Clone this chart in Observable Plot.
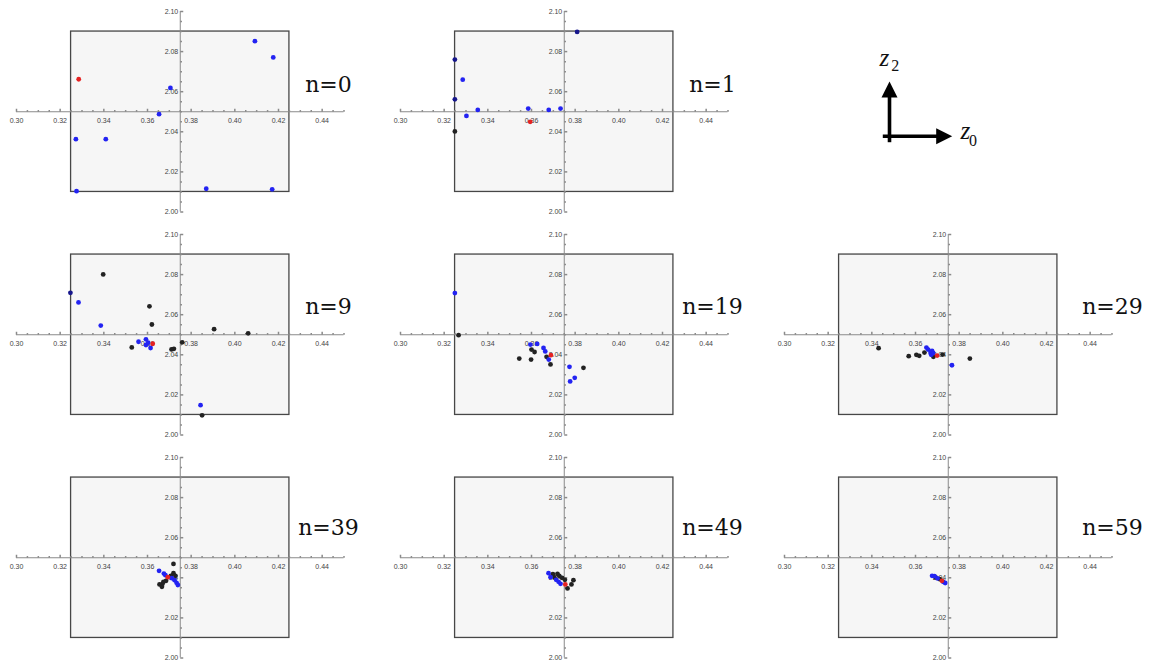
<!DOCTYPE html>
<html><head><meta charset="utf-8">
<script src="https://cdn.jsdelivr.net/npm/d3@7"></script>
<script src="https://cdn.jsdelivr.net/npm/@observablehq/plot@0.6"></script>
<style>
html,body{margin:0;padding:0;background:#fff;}
#root{position:relative;width:1153px;height:666px;overflow:hidden;background:#fff;}
#root svg{position:absolute;overflow:visible;}
</style></head><body><div id="root"></div>
<script>
// ---------- data ----------
const labels = ["n=0", "n=1", "n=9", "n=19", "n=29", "n=39", "n=49", "n=59"];
const xRange = [0.30, 0.45];
const yRange = [2.00, 2.10];
const origin = [0.375, 2.05];
const boxX = [0.325, 0.425];
const boxY = [2.01, 2.09];
const xTicks = [0.30, 0.32, 0.34, 0.36, 0.38, 0.40, 0.42, 0.44];
const yTicks = [2.00, 2.02, 2.04, 2.06, 2.08, 2.10];

// [z0, z2, colour]  b = blue, k = black, r = red, d = dark blue (overlap)
const pts0 = [[0.4092,2.0852,"b"],[0.4176,2.0771,"b"],[0.3285,2.0662,"r"],[0.3705,2.0619,"b"],[0.3653,2.0488,"b"],[0.3272,2.0363,"b"],[0.3409,2.0363,"b"],[0.3275,2.0104,"b"],[0.3869,2.0116,"b"],[0.4171,2.0113,"b"]];
const pts1 = [[0.3809,2.0898,"d"],[0.3249,2.0760,"d"],[0.3285,2.0660,"b"],[0.3249,2.0562,"d"],[0.3354,2.0509,"b"],[0.3302,2.0479,"b"],[0.3585,2.0516,"b"],[0.3594,2.0450,"r"],[0.3679,2.0509,"b"],[0.3733,2.0516,"b"],[0.3249,2.0402,"k"]];
const pts9 = [[0.3247,2.0709,"d"],[0.3284,2.0661,"b"],[0.3397,2.0801,"k"],[0.3386,2.0546,"b"],[0.3609,2.0642,"k"],[0.3620,2.0551,"k"],[0.3905,2.0528,"k"],[0.4061,2.0507,"k"],[0.3559,2.0465,"b"],[0.3593,2.0477,"b"],[0.3593,2.0449,"b"],[0.3603,2.0460,"b"],[0.3614,2.0434,"b"],[0.3624,2.0455,"r"],[0.3528,2.0437,"k"],[0.3710,2.0427,"k"],[0.3721,2.0430,"k"],[0.3759,2.0462,"k"],[0.3843,2.0149,"b"],[0.3850,2.0098,"k"]];
const pts19 = [[0.3249,2.0708,"b"],[0.3266,2.0498,"k"],[0.3595,2.0451,"b"],[0.3626,2.0454,"b"],[0.3600,2.0426,"k"],[0.3614,2.0414,"k"],[0.3655,2.0434,"b"],[0.3663,2.0417,"b"],[0.3669,2.0390,"k"],[0.3679,2.0376,"b"],[0.3689,2.0398,"r"],[0.3687,2.0352,"k"],[0.3544,2.0381,"k"],[0.3598,2.0376,"k"],[0.3774,2.0340,"b"],[0.3777,2.0267,"b"],[0.3798,2.0285,"b"],[0.3838,2.0335,"k"]];
const pts29 = [[0.3431,2.0433,"k"],[0.3569,2.0393,"k"],[0.3604,2.0400,"k"],[0.3617,2.0395,"k"],[0.3641,2.0411,"k"],[0.3650,2.0436,"b"],[0.3658,2.0426,"b"],[0.3669,2.0409,"b"],[0.3676,2.0419,"b"],[0.3672,2.0400,"b"],[0.3681,2.0409,"b"],[0.3682,2.0390,"k"],[0.3699,2.0396,"r"],[0.3724,2.0401,"k"],[0.3767,2.0348,"b"],[0.3849,2.0381,"k"]];
const pts39 = [[0.3719,2.0469,"k"],[0.3719,2.0423,"k"],[0.3653,2.0435,"b"],[0.3675,2.0421,"b"],[0.3682,2.0413,"b"],[0.3707,2.0410,"k"],[0.3693,2.0403,"r"],[0.3685,2.0385,"k"],[0.3711,2.0398,"b"],[0.3724,2.0388,"b"],[0.3733,2.0375,"b"],[0.3739,2.0364,"b"],[0.3669,2.0370,"k"],[0.3655,2.0367,"k"],[0.3666,2.0355,"k"],[0.3673,2.0380,"k"],[0.3728,2.0410,"k"]];
const pts49 = [[0.3678,2.0423,"b"],[0.3687,2.0403,"b"],[0.3698,2.0418,"k"],[0.3719,2.0420,"k"],[0.3727,2.0410,"k"],[0.3740,2.0400,"k"],[0.3705,2.0402,"k"],[0.3713,2.0390,"b"],[0.3724,2.0380,"b"],[0.3733,2.0370,"b"],[0.3753,2.0390,"k"],[0.3755,2.0367,"r"],[0.3765,2.0347,"k"],[0.3783,2.0367,"k"],[0.3792,2.0388,"k"]];
const pts59 = [[0.3676,2.0410,"b"],[0.3687,2.0408,"b"],[0.3692,2.0402,"k"],[0.3701,2.0397,"b"],[0.3711,2.0393,"k"],[0.3721,2.0385,"r"],[0.3727,2.0380,"b"],[0.3736,2.0374,"b"]];

const arrowVecs = [{sub: "0", x: 1, y: 0}, {sub: "2", x: 0, y: 1}];

// ---------- layout / style ----------
const panelData = [pts0, pts1, null, pts9, pts19, pts29, pts39, pts49, pts59];
const panelLabels = [labels[0], labels[1], null, labels[2], labels[3], labels[4], labels[5], labels[6], labels[7]];
const colLeft = [0, 384, 768];
const rowTop = [0, 223, 446];
const labelCx = [328, 328, 344];
const labelBase = [91, 90, 88];
const W = 384, H = 223;
const colours = {k: "#222222", b: "#2323f2", d: "#16168c", r: "#e52222"};
const drawOrder = ["k", "b", "d", "r"];

const tickSym = (dir) => ({draw(ctx, size) {
  const L = Math.sqrt(size / Math.PI);
  ctx.moveTo(0, 0);
  if (dir === "up") ctx.lineTo(0, -L); else ctx.lineTo(L, 0);
}});
const headSym = (dir) => ({draw(ctx, size) {
  const L = Math.sqrt(size / Math.PI), w = L * 0.5;
  ctx.moveTo(0, 0);
  if (dir === "up") { ctx.lineTo(-w, L); ctx.lineTo(w, L); }
  else { ctx.lineTo(-L, -w); ctx.lineTo(-L, w); }
  ctx.closePath();
}});

const near = (a, list) => list.some(t => Math.abs(t - a) < 1e-9);
const xMinor = d3.range(0, 31).map(i => +(xRange[0] + i * 0.005).toFixed(3)).filter(v => !near(v, xTicks));
const yMinor = d3.range(0, 21).map(i => +(yRange[0] + i * 0.005).toFixed(3)).filter(v => !near(v, yTicks));

const axisGrey = "#8a8a8a";
const labelFont = "'Liberation Sans', Arial, sans-serif";

function panelPlot(pts, label, col, row) {
  const dotMarks = drawOrder.map(c => Plot.dot(pts.filter(p => p[2] === c), {
    x: p => p[0], y: p => p[1], r: 2.4, fill: colours[c], stroke: "none"
  }));
  return Plot.plot({
    width: W, height: H,
    marginLeft: 16, marginRight: 40.5, marginTop: 11, marginBottom: 11.5,
    x: {domain: xRange, axis: null},
    y: {domain: yRange, axis: null},
    style: {fontFamily: labelFont, background: "transparent", overflow: "visible"},
    marks: [
      Plot.rect([0], {x1: () => boxX[0], x2: () => boxX[1], y1: () => boxY[0], y2: () => boxY[1],
        fill: "#f6f6f6", stroke: "#474747", strokeWidth: 1.3}),
      Plot.ruleY([origin[1]], {x1: () => xRange[0], x2: () => xRange[1], stroke: axisGrey, strokeWidth: 1}),
      Plot.ruleX([origin[0]], {y1: () => yRange[0], y2: () => yRange[1], stroke: axisGrey, strokeWidth: 1}),
      Plot.dot(xTicks, {x: d => d, y: () => origin[1], symbol: tickSym("up"), r: 3, stroke: axisGrey, fill: "none"}),
      Plot.dot(xMinor, {x: d => d, y: () => origin[1], symbol: tickSym("up"), r: 1.7, stroke: axisGrey, fill: "none"}),
      Plot.dot(yTicks, {x: () => origin[0], y: d => d, symbol: tickSym("right"), r: 3, stroke: axisGrey, fill: "none"}),
      Plot.dot(yMinor, {x: () => origin[0], y: d => d, symbol: tickSym("right"), r: 1.7, stroke: axisGrey, fill: "none"}),
      Plot.text(xTicks, {x: d => d, y: () => origin[1], text: d => d.toFixed(2), dy: 9, fontSize: 7, fill: "#444"}),
      Plot.text(yTicks, {x: () => origin[0], y: d => d, text: d => d.toFixed(2), dx: -2, textAnchor: "end", fontSize: 7, fill: "#444"}),
      ...dotMarks,
      Plot.text([label], {frameAnchor: "top-left", text: d => d, dx: labelCx[col] - 16, dy: labelBase[row] - 11,
        textAnchor: "middle", lineAnchor: "bottom", fontFamily: "'DejaVu Serif', serif", fontSize: 22, fill: "#111"})
    ]
  });
}

function arrowPlot() {
  const [h, v] = arrowVecs;
  const zFont = {fontFamily: "'Liberation Serif', 'Times New Roman', serif", fill: "#111", textAnchor: "start", lineAnchor: "bottom"};
  return Plot.plot({
    width: W, height: H,
    marginLeft: 121, marginRight: 200.3, marginTop: 81, marginBottom: 87.3,
    x: {domain: [0, 1], axis: null},
    y: {domain: [0, 1], axis: null},
    style: {background: "transparent", overflow: "visible"},
    marks: [
      Plot.link(arrowVecs, {x1: d => d.y ? 0 : -0.107, y1: d => d.x ? 0 : -0.11, x2: d => d.x * 0.8, y2: d => d.y * 0.8,
        stroke: "#000", strokeWidth: 3.6, strokeLinecap: "butt"}),
      Plot.dot([h], {x: "x", y: "y", symbol: headSym("right"), r: 16, fill: "#000", stroke: "none"}),
      Plot.dot([v], {x: "x", y: "y", symbol: headSym("up"), r: 16, fill: "#000", stroke: "none"}),
      Plot.text([h], {x: "x", y: "y", text: () => "z", dx: 8.3, dy: 2.6, fontSize: 25, fontStyle: "italic", ...zFont}),
      Plot.text([h], {x: "x", y: "y", text: d => d.sub, dx: 16.8, dy: 9.3, fontSize: 16, ...zFont}),
      Plot.text([v], {x: "x", y: "y", text: () => "z", dx: -10, dy: -16, fontSize: 25, fontStyle: "italic", ...zFont}),
      Plot.text([v], {x: "x", y: "y", text: d => d.sub, dx: 1.7, dy: -10.3, fontSize: 16, ...zFont})
    ]
  });
}

const root = document.getElementById("root");
for (let i = 0; i < 9; i++) {
  const col = i % 3, row = Math.floor(i / 3);
  const svg = panelData[i] ? panelPlot(panelData[i], panelLabels[i], col, row) : arrowPlot();
  svg.style.left = colLeft[col] + "px";
  svg.style.top = rowTop[row] + "px";
  root.appendChild(svg);
}
</script></body></html>
